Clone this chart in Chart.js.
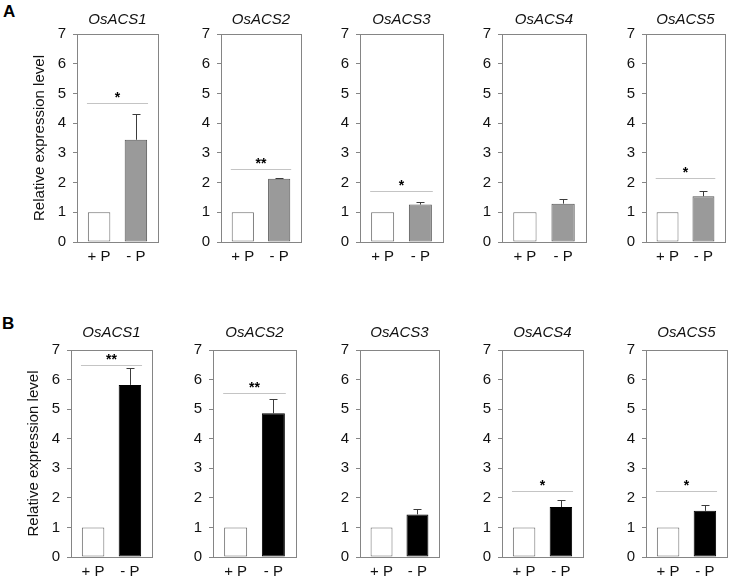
<!DOCTYPE html>
<html>
<head>
<meta charset="utf-8">
<script src="https://cdn.jsdelivr.net/npm/chart.js@4.4.1/dist/chart.umd.min.js"></script>
<style>
  html, body { margin: 0; padding: 0; background: #fff; }
  #wrap { position: relative; width: 729px; height: 577px; overflow: hidden; }
  canvas { position: absolute; }
  .panel-label { position: absolute; font: bold 17px "Liberation Sans", Arial, sans-serif; line-height: 17px; color: #000; }
</style>
</head>
<body>
<div id="wrap">
  <div class="panel-label" style="left:3px; top:3px;">A</div>
  <div class="panel-label" style="left:2px; top:315px;">B</div>
</div>
<script>
// ---------------- data ----------------
const categories = ['+ P', '- P'];
const genes = ['OsACS1', 'OsACS2', 'OsACS3', 'OsACS4', 'OsACS5'];
const yTicks = [0, 1, 2, 3, 4, 5, 6, 7];
const yAxisTitle = 'Relative expression level';

// Panel A
const plusP_A   = [1, 1, 1, 1, 1];
const minusP_A  = [3.44, 2.13, 1.26, 1.29, 1.54];
const errMinus_A = [0.88, 0.02, 0.09, 0.17, 0.18];
const sigLevel_A = [4.69, 2.47, 1.70, null, 2.15];
const sigMark_A  = ['*', '**', '*', '', '*'];

// Panel B
const plusP_B   = [1, 1, 1, 1, 1];
const minusP_B  = [5.82, 4.86, 1.44, 1.69, 1.56];
const errMinus_B = [0.56, 0.48, 0.18, 0.23, 0.21];
const sigLevel_B = [6.49, 5.56, null, 2.22, 2.22];
const sigMark_B  = ['**', '**', '', '*', '*'];

// ---------------- layout / style ----------------
const FONT = '"Liberation Sans", Arial, sans-serif';
const FRAME = '#858585';
const TEXT = '#111111';
const rows = [
  { plus: plusP_A, minus: minusP_A, err: errMinus_A, sig: sigLevel_A, mark: sigMark_A,
    top: 34, bottom: 242, lefts: [77, 221, 360, 502, 646], rights: [158, 301, 443, 586, 725],
    titleGap: 14, yTitleX: 40, fill: '#9a9a9a', border: '#555555' },
  { plus: plusP_B, minus: minusP_B, err: errMinus_B, sig: sigLevel_B, mark: sigMark_B,
    top: 350, bottom: 557, lefts: [71, 213, 360, 502, 646], rights: [152, 296, 439, 583, 727],
    titleGap: 17, yTitleX: 34, fill: '#000000', border: '#000000' }
];
const PAD_TOP = 30, X_AXIS_H = 26, Y_AXIS_W = 40, PAD_RIGHT = 3;

function makeDecor(row, i) {
  return {
    id: 'decor' + i,
    afterDraw(chart) {
      const { ctx, chartArea: { left, right, top, bottom }, scales: { x, y } } = chart;
      ctx.save();
      // frame
      ctx.strokeStyle = FRAME;
      ctx.lineWidth = 1;
      ctx.strokeRect(Math.round(left) + 0.5, Math.round(top) + 0.5,
                     Math.round(right) - Math.round(left), Math.round(bottom) - Math.round(top));
      // error bar (upper) on "- P"
      const xp = Math.round(x.getPixelForValue(1)) + 0.5;
      const y0 = y.getPixelForValue(row.minus[i]);
      const y1 = Math.round(y.getPixelForValue(row.minus[i] + row.err[i])) + 0.5;
      ctx.strokeStyle = '#3c3c3c';
      ctx.beginPath();
      ctx.moveTo(xp, y0);
      ctx.lineTo(xp, y1);
      ctx.moveTo(xp - 4, y1);
      ctx.lineTo(xp + 4, y1);
      ctx.stroke();
      // significance line + mark
      if (row.sig[i] !== null) {
        const yl = Math.round(y.getPixelForValue(row.sig[i])) + 0.5;
        ctx.strokeStyle = '#c4c4c4';
        ctx.beginPath();
        ctx.moveTo(x.getPixelForValue(-0.33), yl);
        ctx.lineTo(x.getPixelForValue(1.33), yl);
        ctx.stroke();
        ctx.fillStyle = '#000';
        ctx.font = 'bold 14px ' + FONT;
        ctx.textAlign = 'center';
        ctx.textBaseline = 'alphabetic';
        ctx.fillText(row.mark[i], x.getPixelForValue(0.5), yl - 2);
      }
      // gene title
      ctx.fillStyle = TEXT;
      ctx.font = 'italic 15px ' + FONT;
      ctx.textAlign = 'center';
      ctx.textBaseline = 'middle';
      ctx.fillText(genes[i], (left + right) / 2, top - row.titleGap);
      ctx.restore();
    }
  };
}

const wrap = document.getElementById('wrap');
rows.forEach((row) => {
  genes.forEach((g, i) => {
    const first = i === 0;
    const yW = first ? row.lefts[i] : Y_AXIS_W;
    const cLeft = row.lefts[i] - yW;
    const cTop = row.top - PAD_TOP;
    const w = row.rights[i] + PAD_RIGHT - cLeft;
    const h = row.bottom + X_AXIS_H - cTop;
    const cv = document.createElement('canvas');
    cv.width = w; cv.height = h;
    cv.style.left = cLeft + 'px'; cv.style.top = cTop + 'px';
    cv.style.width = w + 'px'; cv.style.height = h + 'px';
    wrap.appendChild(cv);

    new Chart(cv, {
      type: 'bar',
      data: {
        datasets: [{
          data: [{ x: 0, y: row.plus[i] }, { x: 1, y: row.minus[i] }],
          backgroundColor: ['#ffffff', row.fill],
          borderColor: ['#6a6a6a', row.border],
          borderWidth: 1,
          borderSkipped: false,
          barPercentage: 0.61,
          categoryPercentage: 1
        }]
      },
      options: {
        responsive: false,
        animation: false,
        events: [],
        devicePixelRatio: 1,
        layout: { padding: { top: PAD_TOP, right: PAD_RIGHT, left: 0, bottom: 0 } },
        plugins: { legend: { display: false }, tooltip: { enabled: false } },
        scales: {
          x: {
            type: 'linear', min: -0.6, max: 1.6, offset: false,
            afterBuildTicks: (s) => { s.ticks = categories.map((c, k) => ({ value: k })); },
            afterFit: (s) => { s.height = X_AXIS_H; },
            ticks: { callback: (v) => categories[v], font: { family: FONT, size: 15 }, color: TEXT, padding: 6, maxRotation: 0, autoSkip: false },
            grid: { display: false, drawTicks: false, offset: false },
            border: { display: true, color: FRAME }
          },
          y: {
            min: 0, max: 7,
            afterBuildTicks: (s) => { s.ticks = yTicks.map((v) => ({ value: v })); },
            afterFit: (s) => { s.width = yW; },
            ticks: { font: { family: FONT, size: 15 }, color: TEXT, padding: 7 },
            grid: { drawOnChartArea: false, tickLength: 4, color: FRAME },
            border: { display: true, color: FRAME },
            title: {
              display: first, text: yAxisTitle, color: TEXT,
              font: { family: FONT, size: 15 },
              padding: { top: row.yTitleX - 9, bottom: 0 }
            }
          }
        }
      },
      plugins: [makeDecor(row, i)]
    });
  });
});
</script>
</body>
</html>
